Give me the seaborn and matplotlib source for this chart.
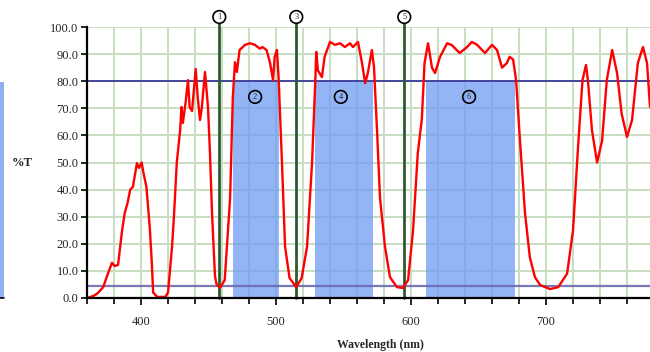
import numpy as np
import pandas as pd
import matplotlib.pyplot as plt
import matplotlib.patches as mpatches
from matplotlib.ticker import MultipleLocator, FormatStrFormatter
import seaborn as sns

# Transmission spectrum
wavelength = [360, 365, 368, 372, 375.5, 378.5, 380.5, 383, 386, 388, 390, 392, 394,
              397, 398.5, 400.5, 401.5, 404, 406.5, 408, 409, 412, 418, 420, 423, 424.5,
              426.5, 429, 430, 431, 433, 434.8, 436, 437.8, 440.5, 442, 443.7, 445, 447.4,
              449.6, 451, 452.6, 454.8, 456, 458.5, 462, 466, 468, 469.6, 471, 473, 477,
              480.7, 484.4, 488, 490, 493, 495.6, 497.8, 499, 500.7, 502, 504.4, 506.7,
              510, 515, 519, 523, 526.7, 529, 529.8, 531, 534, 536, 540, 543.7, 547.4,
              551, 554.8, 557, 560.7, 563.7, 566, 568, 571, 572.6, 574.8, 577, 580.7,
              584.4, 589.6, 594, 597.8, 601.5, 605, 608, 610, 612.6, 615.5, 617.8, 621.5,
              626.7, 630, 636, 641.5, 645, 649, 654.8, 660, 663.7, 667.4, 671, 673, 675.6,
              677.8, 680.7, 684.4, 688, 691.8, 695.6, 703, 709, 715.6, 720, 723.7, 727,
              729.6, 731, 734, 737.8, 741.5, 745, 749, 752.6, 756, 760, 763.7, 768, 771.8,
              774.8, 777]
transmission = [0, 0.8, 1.8, 4, 9, 13, 11.8, 12.2, 25, 31.5, 35, 40, 41,
                49.8, 48, 50, 47, 41, 26, 13, 2, 0.4, 0.4, 2, 19, 31,
                50, 62, 70.5, 64.6, 72, 80.4, 70.5, 69, 84.5, 74, 65.7, 70, 83.4,
                70.5, 54.6, 31.4, 8, 5, 3.7, 6.6, 37, 74, 87, 83.4, 91.5, 93.4,
                94, 93.4, 92, 92.6, 91.5, 86.7, 80.4, 89, 91.5, 80.4, 50, 19,
                7.4, 4, 7.4, 19, 50, 79, 90.8, 84, 81.5, 89, 94.5, 93.4, 94,
                92.6, 94, 92.6, 94.5, 86.7, 79.3, 83, 91.5, 85, 62, 37, 19,
                7.7, 4, 3.7, 6.6, 25, 53.5, 66, 86.7, 94, 85, 83, 89,
                94, 93.4, 90.4, 92.6, 94.5, 93.4, 90.4, 93.4, 91.5, 85, 86.7, 89, 88,
                80.4, 58, 31.4, 15, 7.7, 4.8, 3.3, 4, 9, 25, 55.7, 80.4,
                86, 80.4, 62, 50, 58, 80.4, 91.5, 83, 68, 59.4, 65.7, 86.7, 92.6,
                86.7, 70.5]

# markers
line_ids = ['1', '3', '5']
line_pos = [458, 515, 595]
band_ids = ['2', '4', '6']
band_start = [468, 529, 611]
band_end = [502, 572, 677]
band_label_x = [484.5, 548, 643]
upper_level = 80
lower_level = 4.5

df = pd.DataFrame({'Wavelength': wavelength, 'T': transmission})

sns.set_style('white')
plt.rcParams['font.family'] = ['Liberation Serif', 'DejaVu Serif']

fig = plt.figure(figsize=(6.5, 3.52), dpi=100)
ax = fig.add_axes([87 / 650, 54 / 352, 563 / 650, 271 / 352])

grid_c = '#c6dec2'
ax.set_xlim(360, 777)
ax.set_ylim(0, 100)
ax.xaxis.set_major_locator(MultipleLocator(100))
ax.xaxis.set_minor_locator(MultipleLocator(20))
ax.yaxis.set_major_locator(MultipleLocator(10))
ax.yaxis.set_major_formatter(FormatStrFormatter('%.1f'))
ax.grid(True, which='both', color=grid_c, lw=1.4, zorder=0)
ax.set_axisbelow(True)

# blue pass bands, grid stays visible through them
for s, e in zip(band_start, band_end):
    ax.axvspan(s, e, ymin=0, ymax=upper_level / 100, color='#6f9cf4',
               alpha=0.75, lw=0, zorder=1)

ax.axhline(upper_level, color='#3a3a9a', lw=1.3, zorder=2)
ax.axhline(lower_level, color='#6a6ab0', lw=1.6, alpha=0.9, zorder=2)

for lid, x in zip(line_ids, line_pos):
    ax.plot([x, x], [0, 103.7], color='#2f5a30', lw=2, zorder=3, clip_on=False)
    ax.text(x, 103.7, lid, ha='center', va='center', fontsize=6, zorder=6,
            clip_on=False,
            bbox=dict(boxstyle='circle,pad=0.28', fc='white', ec='black', lw=1.2))

sns.lineplot(data=df, x='Wavelength', y='T', color='red', lw=1.7, ax=ax,
             zorder=4, sort=False)

for bid, x in zip(band_ids, band_label_x):
    ax.text(x, 74.2, bid, ha='center', va='center', fontsize=6, zorder=6,
            bbox=dict(boxstyle='circle,pad=0.28', fc='none', ec='black', lw=1.2))

for sp in ['top', 'right']:
    ax.spines[sp].set_visible(False)
for sp in ['left', 'bottom']:
    ax.spines[sp].set_color('black')
    ax.spines[sp].set_linewidth(1.6)
    ax.spines[sp].set_zorder(5)

ax.tick_params(axis='both', which='both', direction='out', color='black',
               bottom=True, left=True)
ax.tick_params(axis='x', which='major', length=5, width=1.2, labelsize=9, pad=8)
ax.tick_params(axis='x', which='minor', length=4, width=1.2)
ax.tick_params(axis='y', which='major', length=4, width=1.2, labelsize=9, pad=2)
ax.set_xlabel('')
ax.set_ylabel('')

fig.text(22 / 650, 1 - 163 / 352, '%T', ha='center', va='center',
         fontsize=9, fontweight='bold')
fig.text(380 / 650, 1 - 345 / 352, 'Wavelength (nm)', ha='center', va='center',
         fontsize=8.5, fontweight='bold')

# sliver of neighbouring chart at the left edge
fig.patches.append(mpatches.Rectangle((0, 54 / 352), 4 / 650, 216 / 352,
                                      transform=fig.transFigure, fc='#8fb0f5',
                                      ec='none'))
fig.lines.append(plt.Line2D([0, 4 / 650], [54 / 352, 54 / 352],
                            transform=fig.transFigure, color='black', lw=1.2))

fig.savefig('out.png', dpi=100)
